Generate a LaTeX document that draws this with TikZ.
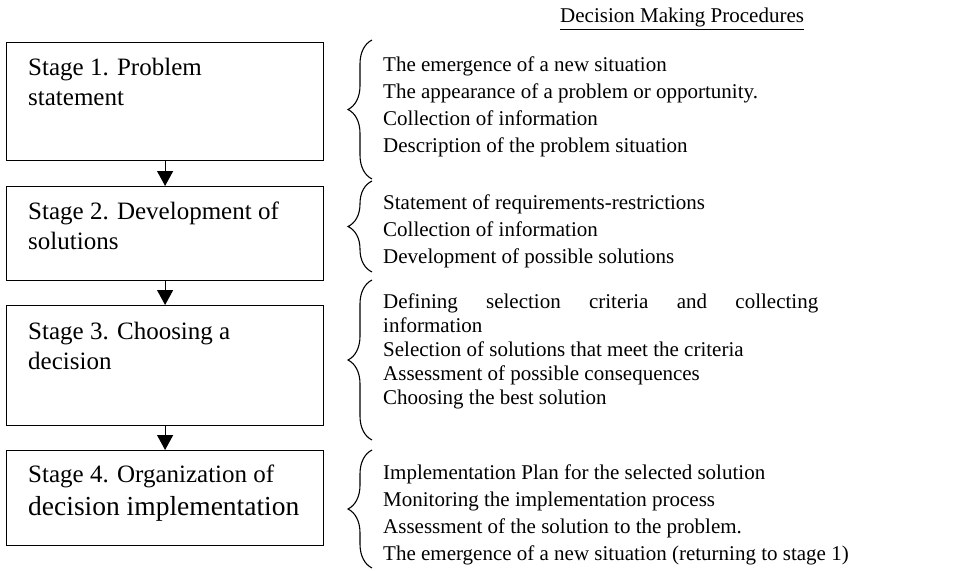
\documentclass[tikz,border=0pt]{standalone}
\usepackage{fontspec}
\setmainfont{Liberation Serif}
\usetikzlibrary{arrows.meta,decorations.pathreplacing,positioning}

\tikzset{
  stagebox/.style={draw, line width=1.2pt, minimum width=317pt, inner sep=0pt, anchor=north west},
  stagetext/.style={anchor=north west, inner sep=0pt, align=left, font=\fontsize{25}{30}\selectfont},
  procs/.style={anchor=north west, inner sep=0pt, align=left, font=\fontsize{21}{26.7}\selectfont},
  flow/.style={line width=1.2pt, -{Triangle[length=15pt,width=16pt]}},
  grp/.style={line width=1.1pt, decorate, decoration={brace, amplitude=24pt}}
}

\begin{document}
\begin{tikzpicture}[x=1pt,y=-1pt]
  \useasboundingbox (0,0) rectangle (966,570);

  % stages
  \node[stagebox, minimum height=118pt] (s1) at (6,42) {};
  \node[stagebox, minimum height=94pt] (s2) at (6,186) {};
  \node[stagebox, minimum height=120pt] (s3) at (6,305) {};
  \node[stagebox, minimum height=95pt] (s4) at (6,450) {};

  \node[stagetext] (t1) at (28,58) {Stage 1. Problem\\statement};
  \node[stagetext] (t2) at (28,202) {Stage 2. Development of\\solutions};
  \node[stagetext] (t3) at (28,322) {Stage 3. Choosing a\\decision};
  \node[stagetext] (t4) at (28,465) {Stage 4. Organization of\\[3pt]{\fontsize{27.5}{33}\selectfont decision implementation}};

  \draw[flow] (s1) -- (s2);
  \draw[flow] (s2) -- (s3);
  \draw[flow] (s3) -- (s4);

  % procedures
  \node[procs, anchor=base west] (title) at (560,23) {\underline{Decision Making Procedures}};

  \draw[grp] (372,179) -- (372,40);
  \draw[grp] (372,272) -- (372,181);
  \draw[grp] (372,440) -- (372,280);
  \draw[grp] (372,568) -- (372,450);

  \node[procs] (p1) at (383,57) {The emergence of a new situation\\The appearance of a problem or opportunity.\\Collection of information\\Description of the problem situation};
  \node[procs] (p2) at (383,195) {Statement of requirements-restrictions\\Collection of information\\Development of possible solutions};
  \node[procs, font=\fontsize{21}{24}\selectfont] (p3) at (383,294) {\makebox[435pt][s]{Defining selection criteria and collecting}\\information\\Selection of solutions that meet the criteria\\Assessment of possible consequences\\Choosing the best solution};
  \node[procs] (p4) at (383,465) {Implementation Plan for the selected solution\\Monitoring the implementation process\\Assessment of the solution to the problem.\\The emergence of a new situation (returning to stage 1)};
\end{tikzpicture}
\end{document}
